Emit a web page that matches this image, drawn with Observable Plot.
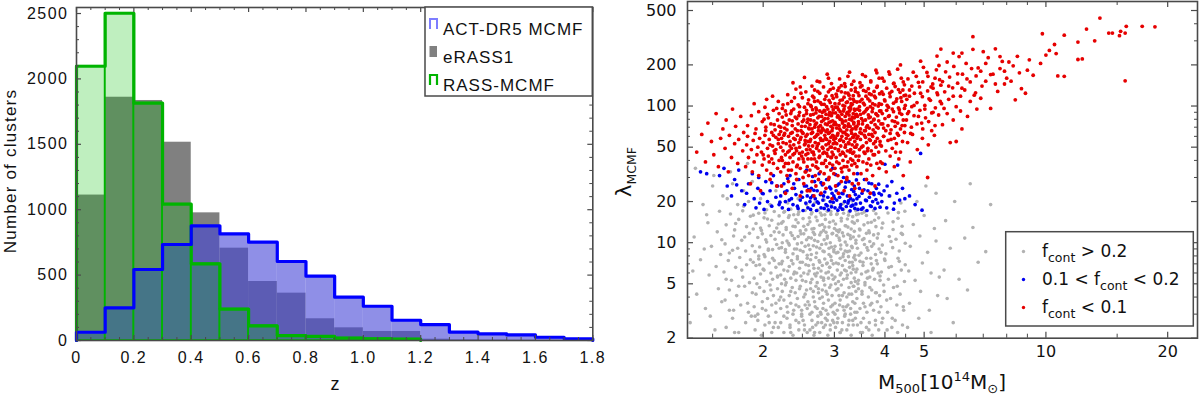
<!DOCTYPE html>
<html><head><meta charset="utf-8">
<script src="https://cdn.jsdelivr.net/npm/d3@7"></script>
<script src="https://cdn.jsdelivr.net/npm/@observablehq/plot@0.6"></script>
<style>
body{margin:0;background:#fff;}
#wrap{position:relative;width:1200px;height:396px;overflow:hidden;background:#fff;}
#left,#right,#over{position:absolute;top:0;}
#left{left:0;} #right{left:600px;} #over{left:0;pointer-events:none;}
svg{overflow:visible}
</style></head><body><div id="wrap"><div id="left"></div><div id="right"></div><svg id="over" width="1200" height="396"></svg></div>
<script>
// ---------- Left panel data: redshift histograms (bin width 0.1) ----------
const zBinStart = [0,0.1,0.2,0.3,0.4,0.5,0.6,0.7,0.8,0.9,1.0,1.1,1.2,1.3,1.4,1.5,1.6,1.7];
const binWidth = 0.1;
const actCounts   = [63,250,543,734,877,815,752,604,492,331,262,155,122,64,51,43,25,13];
const erassCounts = [1112,1860,1835,1516,976,706,451,362,166,97,69,69,10,5,3,2,1,0];
const rassCounts  = [2097,2502,1815,1042,586,240,112,38,31,18,13,10,0,0,0,0,0,0];
const zTicks = [0,0.2,0.4,0.6,0.8,1.0,1.2,1.4,1.6,1.8];
const zMinor = [0.05,0.1,0.15,0.25,0.3,0.35,0.45,0.5,0.55,0.65,0.7,0.75,0.85,0.9,0.95,1.05,1.1,1.15,1.25,1.3,1.35,1.45,1.5,1.55,1.65,1.7,1.75];
const nTicks = [0,500,1000,1500,2000,2500];
const nMinor = [100,200,300,400,600,700,800,900,1100,1200,1300,1400,1600,1700,1800,1900,2100,2200,2300,2400];
const histLegend = ["ACT-DR5 MCMF","eRASS1","RASS-MCMF"];

// ---------- Right panel data: M500 [1e14 Msun], lambda_MCMF ----------
const massTicks = [2,3,4,5,10,20];
const massMinor = [1.5,2.5,3.5,4.5,6,7,8,9,15];
const lambdaTicks = [2,5,10,20,50,100,200,500];
const lambdaMinor = [3,4,6,7,8,9,30,40,60,70,80,90,300,400];
const scatterLegend = ["> 0.2","0.1 < ","< 0.1"];

const grayPts = [
[1.32,2.6],[1.35,11],[1.37,4.2],[1.4,7.5],[1.42,19],[1.44,3.3],[1.46,14],[1.47,5.8],[1.49,9.4],[1.5,26],[1.52,2.3],[1.53,6.7],[1.54,12],[1.55,4.6],[1.56,17],[1.57,8.2],[1.58,3.7],[1.59,22],[1.36,35],[1.45,16],[1.51,31],[1.34,6.2],[1.43,9],[1.48,2.9],[1.58,10.5],
[1.62,2.4],[1.68,2.8],[1.74,2.2],[1.81,2.6],[1.87,2.9],
[1.61,3.8],[1.65,4.5],[1.69,3.2],[1.72,4.1],[1.76,3.5],[1.8,4.8],[1.84,3.1],[1.88,4.3],
[1.6,6.1],[1.64,7.4],[1.67,5.3],[1.71,6.6],[1.75,7.8],[1.78,5.6],[1.82,6.9],[1.85,5.1],[1.89,7.2],
[1.61,9.8],[1.65,8.4],[1.69,11.2],[1.73,9.1],[1.77,10.4],[1.81,8.7],[1.85,11.7],[1.88,9.5],
[1.62,13.5],[1.66,16.2],[1.7,12.4],[1.74,14.8],[1.78,17.1],[1.82,13.1],[1.86,15.6],[1.89,12.6],
[1.63,21],[1.68,27],[1.73,19],[1.79,24],[1.84,20],[1.88,28],[1.66,33],[1.83,38],
[1.91,2.3],[1.94,2.7],[1.98,2.1],[2.02,2.5],[2.06,2.9],[2.1,2.2],[2.14,2.6],[2.18,2.4],
[1.9,3.4],[1.92,4.2],[1.94,3.0],[1.96,4.7],[1.99,3.7],[2.01,4.4],[2.03,3.2],[2.05,3.9],[2.08,4.9],[2.1,3.5],[2.12,4.1],[2.15,3.1],[2.17,4.6],[2.19,3.8],
[1.9,5.5],[1.92,6.8],[1.95,7.6],[1.97,5.9],[2.0,6.4],[2.02,7.9],[2.04,5.2],[2.07,7.1],[2.09,6.0],[2.11,5.4],[2.13,7.4],[2.15,6.6],[2.17,5.7],[2.19,7.0],
[1.91,8.6],[1.94,10.9],[1.96,9.3],[1.99,11.6],[2.01,8.2],[2.04,10.1],[2.06,9.0],[2.09,11.3],[2.11,8.9],[2.14,10.6],[2.16,9.7],[2.19,11.9],
[1.92,13.8],[1.95,16.4],[1.98,12.3],[2.01,15.2],[2.04,17.4],[2.07,13.3],[2.1,14.6],[2.13,16.9],[2.16,12.8],[2.19,15.7],
[1.97,21],[2.08,19],[2.15,24],
[2.21,2.6],[2.25,2.2],[2.29,2.8],[2.33,2.4],[2.37,2.1],[2.41,2.7],[2.45,2.3],[2.49,2.9],[2.53,2.5],[2.57,2.2],
[2.21,3.3],[2.23,4.4],[2.25,3.8],[2.27,4.9],[2.3,3.1],[2.32,4.1],[2.34,3.6],[2.36,4.7],[2.38,3.2],[2.4,4.3],[2.43,3.9],[2.45,3.4],[2.47,4.8],[2.49,3.0],[2.52,4.0],[2.54,3.5],[2.56,4.5],[2.58,3.7],
[2.21,5.8],[2.23,7.3],[2.25,6.3],[2.28,5.1],[2.3,7.8],[2.32,6.7],[2.34,5.5],[2.37,7.0],[2.39,6.1],[2.41,5.3],[2.43,7.6],[2.46,6.5],[2.48,5.7],[2.5,7.2],[2.52,6.0],[2.55,5.2],[2.57,7.7],[2.59,6.8],
[2.22,9.2],[2.24,11.4],[2.27,8.5],[2.29,10.3],[2.32,9.6],[2.34,11.8],[2.37,8.3],[2.39,10.7],[2.42,9.0],[2.44,11.1],[2.47,8.8],[2.49,10.0],[2.52,11.6],[2.54,9.4],[2.57,8.1],[2.59,10.9],
[2.22,13.9],[2.25,16.7],[2.28,12.5],[2.31,15.3],[2.34,17.6],[2.37,13.2],[2.41,14.7],[2.44,16.1],[2.47,12.2],[2.51,15.0],[2.54,17.2],[2.58,13.6],
[2.3,19.5],[2.44,21],[2.56,19],
[2.61,2.3],[2.64,2.7],[2.67,2.1],[2.7,2.5],[2.73,2.9],[2.76,2.2],[2.79,2.6],[2.82,2.4],[2.85,2.8],[2.89,2.1],[2.93,2.5],[2.97,2.7],
[2.6,3.5],[2.62,4.6],[2.64,3.1],[2.66,4.0],[2.68,3.7],[2.7,4.8],[2.72,3.3],[2.74,4.3],[2.76,3.9],[2.78,3.0],[2.8,4.5],[2.82,3.6],[2.84,4.9],[2.86,3.2],[2.88,4.2],[2.9,3.8],[2.92,4.7],[2.94,3.4],[2.96,4.1],[2.98,3.1],
[2.6,6.2],[2.62,7.5],[2.64,5.4],[2.66,6.9],[2.68,5.9],[2.7,7.8],[2.72,5.1],[2.74,6.5],[2.76,7.2],[2.78,5.6],[2.8,6.8],[2.82,5.3],[2.84,7.6],[2.86,6.0],[2.88,7.1],[2.9,5.5],[2.92,6.6],[2.94,7.9],[2.96,5.8],[2.98,7.0],
[2.61,8.9],[2.63,10.8],[2.66,9.5],[2.68,11.5],[2.71,8.4],[2.73,10.2],[2.76,9.1],[2.78,11.9],[2.81,8.7],[2.83,10.5],[2.86,9.8],[2.88,11.2],[2.91,8.2],[2.93,10.0],[2.95,9.3],[2.97,11.7],[2.99,8.6],
[2.61,14.2],[2.64,16.6],[2.67,12.7],[2.7,15.4],[2.73,17.3],[2.76,13.4],[2.79,15.9],[2.82,12.3],[2.85,14.8],[2.88,17.0],[2.91,13.0],[2.94,16.1],[2.98,14.4],
[2.68,19.5],[2.83,20.5],[2.95,18.8],
[3.02,2.4],[3.06,2.8],[3.1,2.2],[3.14,2.6],[3.18,2.9],[3.22,2.3],[3.26,2.7],[3.3,2.1],[3.34,2.5],[3.38,2.8],
[3.01,3.6],[3.03,4.5],[3.05,3.2],[3.08,4.1],[3.1,3.8],[3.12,4.9],[3.15,3.4],[3.17,4.3],[3.19,3.0],[3.22,4.0],[3.24,3.5],[3.26,4.7],[3.29,3.3],[3.31,4.2],[3.33,3.7],[3.35,4.8],[3.37,3.1],[3.39,4.4],
[3.01,5.6],[3.03,7.1],[3.05,6.3],[3.07,5.2],[3.1,7.7],[3.12,6.0],[3.14,6.8],[3.16,5.4],[3.19,7.4],[3.21,6.2],[3.23,5.8],[3.25,7.9],[3.27,6.6],[3.3,5.1],[3.32,7.2],[3.34,6.4],[3.36,5.5],[3.38,7.5],[3.39,6.1],
[3.01,9.4],[3.04,11.3],[3.06,8.5],[3.09,10.4],[3.11,9.0],[3.14,11.8],[3.16,8.3],[3.19,10.1],[3.22,9.6],[3.24,11.5],[3.27,8.7],[3.29,10.7],[3.32,9.2],[3.34,11.0],[3.37,8.1],[3.39,9.9],
[3.02,13.7],[3.05,16.3],[3.09,12.4],[3.12,15.1],[3.16,17.5],[3.19,13.3],[3.23,14.9],[3.26,16.8],[3.3,12.6],[3.33,15.5],[3.36,13.9],[3.39,17.1],
[3.15,19.3],[3.32,20.2],
[3.42,2.5],[3.48,2.2],[3.54,2.8],[3.6,2.4],[3.66,2.6],[3.72,2.1],[3.79,2.7],[3.86,2.3],
[3.41,3.9],[3.44,4.6],[3.47,3.3],[3.51,4.2],[3.54,3.6],[3.57,4.9],[3.61,3.1],[3.64,4.0],[3.68,3.5],[3.71,4.5],[3.75,3.2],[3.79,4.3],[3.83,3.7],[3.88,4.1],
[3.41,6.4],[3.44,5.3],[3.47,7.3],[3.5,5.9],[3.53,6.8],[3.57,5.1],[3.6,7.7],[3.63,6.2],[3.67,5.6],[3.7,7.0],[3.74,6.5],[3.77,5.4],[3.81,7.4],[3.85,6.0],[3.89,5.7],
[3.42,9.1],[3.45,11.2],[3.49,8.4],[3.52,10.5],[3.56,9.7],[3.6,11.7],[3.63,8.8],[3.67,10.2],[3.71,9.4],[3.75,11.4],[3.79,8.2],[3.83,10.8],[3.87,9.0],
[3.42,14.5],[3.46,12.6],[3.51,16.4],[3.55,13.5],[3.6,15.8],[3.65,12.2],[3.7,14.1],[3.75,17.2],[3.8,13.1],[3.86,15.2],
[3.93,2.6],[4.05,2.3],[4.17,2.8],[4.3,2.2],[4.42,2.5],
[3.91,3.4],[3.98,4.4],[4.06,3.1],[4.13,3.9],[4.2,4.7],[4.28,3.5],[4.36,4.2],[4.45,3.2],
[3.92,6.1],[4.0,7.4],[4.08,5.4],[4.15,6.7],[4.23,5.8],[4.31,7.7],[4.39,6.3],[4.47,5.2],
[3.94,9.6],[4.02,8.3],[4.1,11.1],[4.18,9.2],[4.26,10.6],[4.34,8.7],[4.42,11.5],[4.49,9.9],
[3.95,13.9],[4.07,16.5],[4.19,12.5],[4.31,15.1],[4.41,13.2],[4.48,17.0],[4.12,22],[4.38,19.5],
[4.55,2.4],[4.85,2.8],[5.2,2.2],[4.6,3.6],[4.9,4.4],[5.15,3.2],[5.4,4.1],[4.58,6.2],[4.75,5.3],[4.95,7.1],[5.2,6.0],[5.45,5.6],[4.62,9.4],[4.88,11.2],[5.1,8.5],[5.35,10.3],[4.7,13.6],[5.0,15.8],[5.3,12.7],[4.8,20],[5.05,26],[5.35,23],
[5.9,2.6],[5.7,3.9],[6.4,4.5],[5.6,6.3],[6.1,5.4],[6.8,7.2],[5.8,9.1],[6.3,10.8],[7.1,8.6],[5.65,14.5],[6.6,12.9],[5.95,20],[6.5,27],[7.3,19]
];
const grayCorePts = [
[1.91,2.9],[1.93,5.0],[1.95,8.0],[1.97,12.8],[1.99,3.3],[2.01,6.3],[2.03,10.5],[2.05,14.9],[2.07,2.6],[2.09,4.5],[2.11,7.7],[2.13,12.0],[2.15,3.6],[2.17,5.6],[2.19,9.1],[2.02,16.5],[2.12,2.4],[2.18,13.7],[1.96,6.9],[2.06,8.8],
[2.21,4.0],[2.22,7.0],[2.23,10.0],[2.24,14.3],[2.25,2.9],[2.26,5.4],[2.27,8.9],[2.28,12.9],[2.29,3.4],[2.3,6.2],[2.31,9.9],[2.32,15.8],[2.33,2.5],[2.34,4.4],[2.35,7.4],[2.36,11.3],[2.37,3.0],[2.38,5.9],[2.39,9.0],[2.4,13.1],[2.26,16.9],[2.34,2.2],[2.22,5.0],[2.38,16.0],
[2.41,3.5],[2.42,6.0],[2.43,9.8],[2.44,14.0],[2.45,2.6],[2.46,4.6],[2.47,7.2],[2.48,11.6],[2.49,3.2],[2.5,5.3],[2.51,8.6],[2.52,13.2],[2.53,2.3],[2.54,4.2],[2.55,6.9],[2.56,10.5],[2.57,3.3],[2.58,5.9],[2.59,9.6],[2.6,15.2],[2.45,16.8],[2.51,2.7],[2.55,12.4],[2.43,7.9],
[2.61,3.0],[2.62,5.1],[2.63,8.2],[2.64,12.6],[2.65,2.4],[2.66,4.4],[2.67,6.5],[2.68,10.4],[2.69,3.4],[2.7,5.7],[2.71,9.3],[2.72,14.5],[2.73,2.6],[2.74,4.6],[2.75,7.4],[2.76,11.4],[2.77,3.1],[2.78,6.2],[2.79,9.7],[2.8,13.6],[2.63,16.2],[2.68,2.2],[2.72,6.0],[2.77,16.5],[2.66,11.9],[2.8,4.0],
[2.81,3.3],[2.82,5.5],[2.83,8.6],[2.84,13.0],[2.85,2.5],[2.86,4.4],[2.87,7.0],[2.88,10.8],[2.89,3.0],[2.9,6.1],[2.91,9.1],[2.92,14.1],[2.93,2.3],[2.94,4.9],[2.95,7.4],[2.96,11.6],[2.97,3.5],[2.98,5.4],[2.99,8.9],[3.0,12.7],[2.84,16.0],[2.88,2.7],[2.94,16.9],[2.99,2.6],[2.86,11.9],[2.92,6.6],
[3.01,3.0],[3.02,5.0],[3.03,8.4],[3.04,12.3],[3.05,2.6],[3.06,4.6],[3.07,7.0],[3.08,10.8],[3.09,3.5],[3.1,5.8],[3.11,9.6],[3.12,14.4],[3.13,2.3],[3.14,4.1],[3.15,7.9],[3.16,11.2],[3.17,3.2],[3.18,6.3],[3.19,8.7],[3.2,13.3],[3.04,16.1],[3.1,2.2],[3.16,16.4],[3.07,12.0],
[3.21,3.4],[3.22,5.5],[3.23,8.6],[3.24,13.0],[3.25,2.5],[3.26,4.2],[3.27,7.2],[3.28,11.3],[3.29,3.0],[3.3,6.0],[3.31,9.4],[3.32,14.2],[3.33,2.7],[3.34,4.8],[3.35,7.8],[3.36,12.1],[3.37,3.6],[3.38,5.2],[3.39,10.4],[3.4,16.0],[3.25,15.9],[3.33,6.8],
[3.41,3.1],[3.43,5.0],[3.45,8.1],[3.47,12.4],[3.49,2.6],[3.51,4.4],[3.53,7.2],[3.55,10.7],[3.57,3.4],[3.59,6.1],[3.61,9.2],[3.63,14.0],[3.65,2.3],[3.67,4.7],[3.69,7.7],[3.44,16.2],[3.56,16.8],[3.66,11.8],[3.52,2.2],[3.62,5.5],
[3.71,3.6],[3.73,6.3],[3.75,9.8],[3.77,14.6],[3.79,2.5],[3.81,4.3],[3.83,7.0],[3.85,11.6],[3.87,3.1],[3.89,5.3],[3.91,8.5],[3.93,12.8],[3.95,2.8],[3.97,4.9],[3.99,7.6],[3.8,16.3],
[4.04,3.8],[4.09,6.6],[4.14,10.2],[4.19,14.2],[4.24,2.7],[4.29,4.8],[4.34,7.3],[4.39,11.7],[4.44,3.4],[4.49,6.9],[4.16,2.4],[4.32,16.6],
[1.62,5.4],[1.65,3.2],[1.68,8.8],[1.71,13.8],[1.74,4.8],[1.77,6.3],[1.8,11.0],[1.83,3.6],[1.86,7.5],[1.89,15.9],[1.7,2.2],[1.79,18.5]
];

const bluePts = [
[1.4,33],[1.45,32],[1.56,31],[1.6,35],[1.63,26],[1.67,22],[1.7,29],[1.74,34],[1.77,24],[1.8,19],[1.84,27],[1.88,32],
[1.9,21],[1.92,18],[1.94,25],[1.96,19.5],[1.99,23],[2.01,17.5],[2.03,28],[2.05,20],[2.08,24],[2.1,18.5],[2.12,31],[2.15,21.5],[2.17,26],[2.19,19],
[2.21,22],[2.23,18],[2.25,27],[2.27,20],[2.29,24],[2.31,17.5],[2.33,31],[2.35,21],[2.37,19],[2.39,25],[2.41,22.5],[2.43,18.5],[2.45,29],[2.47,20.5],[2.49,23.5],[2.51,17.2],[2.53,26],[2.55,19.5],[2.56,34],[2.57,22],[2.58,18],[2.59,24.5],
[2.61,20],[2.62,17.5],[2.63,25],[2.65,22],[2.66,18.8],[2.68,28],[2.69,21],[2.71,17.2],[2.72,24],[2.74,19.5],[2.75,32],[2.77,22.5],[2.78,18],[2.8,26.5],[2.81,20.5],[2.83,17.8],[2.84,23.5],[2.86,19],[2.87,29],[2.89,21.5],[2.9,17.4],[2.92,25.5],[2.93,20],[2.95,18.3],[2.96,23],[2.97,35],[2.98,19.8],[2.99,22],
[3.01,18],[3.03,24],[3.04,20.5],[3.06,17.3],[3.08,27],[3.09,21.5],[3.11,19],[3.13,23],[3.14,17.6],[3.16,30],[3.18,20],[3.19,25.5],[3.21,18.4],[3.23,22],[3.24,19.5],[3.26,28],[3.28,17.1],[3.29,21],[3.31,24.5],[3.33,18.8],[3.34,20.5],[3.36,26],[3.37,17.8],[3.38,22.5],[3.39,19.2],
[3.41,21],[3.43,17.5],[3.46,25],[3.48,19.5],[3.51,23],[3.53,18],[3.56,29],[3.58,20.5],[3.61,17.2],[3.63,24],[3.66,21.5],[3.68,18.6],[3.71,27],[3.73,20],[3.76,22.5],[3.78,17.8],[3.81,25],[3.84,19.5],[3.87,23],[3.89,18.2],
[3.93,20],[3.98,24],[4.04,18],[4.1,22],[4.16,28],[4.22,19.5],[4.28,23],[4.35,20.5],[4.42,25],[4.48,21],
[4.6,22],[4.75,19],[4.94,17.3],[4.9,45],[4.3,37],[4.0,37.5],
[2.2,19.8],[2.26,23.5],[2.32,20.5],[2.38,27],[2.44,17.8],[2.5,21.5],[2.56,26],[2.62,21.3],[2.67,24.2],[2.72,19.9],[2.78,27.5],[2.82,22],[2.88,18.6],[2.94,24.8],[3.0,21.2],[3.05,26.3],[3.1,18.2],[3.15,22.8],[3.2,27.7],[3.25,20.2],[3.3,18.5],[3.35,23.7],[3.4,28.8],[3.45,21.8],[3.5,17.6],[3.55,24.4],[3.6,20.3],[3.65,27.3],[3.7,18.4],[3.75,23.2],[3.8,20.7],[3.86,26.8],[3.92,22.4],[2.1,27.5],[2.0,22.8],[1.95,30],[2.65,30.5],[3.02,31.5],[3.42,32],[2.3,29.5],[1.72,26.5],[1.82,23],[4.05,26],[4.2,17.6]
];

const redPts = [
[1.37,46],[1.41,62],[1.44,39],[1.46,75],[1.49,55],[1.51,44],[1.53,88],[1.55,36],[1.57,58],[1.59,68],[1.61,49],[1.62,79],[1.64,33],[1.65,61],[1.67,42],[1.68,95],[1.7,53],[1.71,71],[1.73,38],[1.74,57],[1.76,84],[1.78,47],[1.79,64],
[1.86,27],[1.97,24],[2.08,29],[2.16,26],
[1.81,36],[1.84,42],[1.88,33],[1.9,39],[1.93,44],[1.95,31],[1.99,37],[2.01,41],[2.04,34],[2.06,43],[2.09,32],[2.12,38],[2.14,45],[2.17,35],[2.19,40],
[1.82,52],[1.83,60],[1.87,48],[1.89,56],[1.91,63],[1.94,50],[1.96,58],[1.98,46],[2.0,54],[2.02,61],[2.05,49],[2.07,57],[2.1,64],[2.11,51],[2.13,47],[2.15,59],[2.18,53],[2.19,62],
[1.83,72],[1.87,85],[1.92,68],[1.95,91],[1.99,77],[2.03,70],[2.06,82],[2.09,74],[2.12,93],[2.14,67],[2.17,79],[2.19,88],
[1.9,104],[2.02,98],[2.11,118],[2.18,108],
[2.22,26],[2.27,23],[2.31,28],[2.36,25],[2.42,29],[2.47,22],[2.52,27],[2.57,24],
[2.21,33],[2.23,40],[2.25,36],[2.27,44],[2.29,31],[2.31,38],[2.33,42],[2.35,34],[2.37,39],[2.39,45],[2.41,32],[2.43,37],[2.45,41],[2.47,35],[2.49,43],[2.51,30],[2.52,39],[2.54,33],[2.55,44],[2.57,36],[2.58,41],[2.59,31],
[2.21,50],[2.22,58],[2.24,47],[2.26,63],[2.28,53],[2.3,46],[2.31,60],[2.33,55],[2.35,49],[2.36,64],[2.38,52],[2.4,57],[2.42,47],[2.43,61],[2.45,54],[2.46,50],[2.48,59],[2.5,46],[2.51,63],[2.53,52],[2.54,56],[2.56,48],[2.57,62],[2.58,55],[2.59,51],
[2.21,70],[2.23,83],[2.25,76],[2.27,92],[2.29,67],[2.32,79],[2.34,88],[2.36,72],[2.38,95],[2.4,68],[2.42,81],[2.44,74],[2.46,90],[2.48,66],[2.5,77],[2.52,85],[2.54,71],[2.56,93],[2.58,80],[2.59,69],
[2.24,102],[2.3,121],[2.35,108],[2.41,133],[2.46,99],[2.5,115],[2.55,127],[2.58,104],[2.37,148],[2.53,162],
[2.61,24],[2.64,28],[2.67,22],[2.7,26],[2.74,29],[2.78,23],[2.82,27],[2.86,25],[2.9,29],[2.96,21],
[2.61,34],[2.63,41],[2.65,37],[2.67,44],[2.69,31],[2.71,39],[2.73,35],[2.75,42],[2.77,33],[2.79,38],[2.81,45],[2.83,32],[2.85,40],[2.87,36],[2.89,43],[2.91,30],[2.92,38],[2.94,34],[2.95,42],[2.97,37],[2.98,44],[2.99,32],
[2.61,48],[2.62,57],[2.63,63],[2.65,51],[2.66,46],[2.68,59],[2.69,54],[2.71,49],[2.72,62],[2.74,53],[2.75,47],[2.77,58],[2.78,64],[2.8,50],[2.81,56],[2.83,46],[2.84,61],[2.86,52],[2.87,57],[2.89,48],[2.9,63],[2.92,55],[2.93,50],[2.94,59],[2.96,46],[2.97,61],[2.98,53],[2.99,57],
[2.61,73],[2.62,86],[2.64,68],[2.65,94],[2.67,78],[2.68,70],[2.7,89],[2.71,75],[2.73,82],[2.74,66],[2.76,92],[2.77,72],[2.79,84],[2.8,69],[2.82,79],[2.83,93],[2.85,74],[2.86,87],[2.88,67],[2.89,81],[2.91,76],[2.92,90],[2.94,71],[2.95,85],[2.96,66],[2.97,78],[2.98,94],[2.99,73],
[2.62,101],[2.65,118],[2.68,131],[2.7,97],[2.73,109],[2.76,124],[2.79,103],[2.82,138],[2.84,112],[2.87,99],[2.9,127],[2.93,106],[2.96,119],[2.98,135],[2.72,152],[2.88,171],[2.95,146],
[3.02,26],[3.07,23],[3.12,28],[3.17,24],[3.22,29],[3.27,22],[3.32,27],[3.37,25],
[3.01,35],[3.03,42],[3.06,31],[3.08,38],[3.1,44],[3.13,33],[3.15,40],[3.17,36],[3.2,43],[3.22,30],[3.24,39],[3.26,34],[3.29,41],[3.31,37],[3.33,45],[3.35,32],[3.37,38],[3.39,43],
[3.01,49],[3.02,58],[3.04,53],[3.06,63],[3.07,47],[3.09,56],[3.11,51],[3.13,60],[3.14,46],[3.16,55],[3.18,64],[3.19,50],[3.21,58],[3.23,47],[3.24,61],[3.26,53],[3.28,57],[3.29,48],[3.31,63],[3.32,52],[3.34,59],[3.35,46],[3.37,55],[3.38,62],[3.39,50],
[3.01,76],[3.02,89],[3.04,69],[3.05,83],[3.07,94],[3.08,72],[3.1,80],[3.11,66],[3.13,87],[3.14,75],[3.16,92],[3.17,70],[3.19,84],[3.2,78],[3.22,67],[3.23,90],[3.25,74],[3.26,86],[3.28,71],[3.29,95],[3.31,79],[3.32,68],[3.34,88],[3.35,76],[3.36,82],[3.37,93],[3.38,70],[3.39,85],
[3.01,104],[3.03,122],[3.05,98],[3.08,136],[3.1,110],[3.12,127],[3.15,101],[3.17,116],[3.19,139],[3.21,106],[3.24,124],[3.26,97],[3.28,113],[3.3,131],[3.32,103],[3.34,119],[3.36,108],[3.38,128],
[3.09,158],[3.18,146],[3.27,177],[3.35,152],
[3.44,27],[3.52,24],[3.6,29],[3.68,23],[3.78,26],
[3.41,36],[3.45,43],[3.49,32],[3.53,39],[3.57,45],[3.61,34],[3.65,41],[3.69,37],[3.73,31],[3.77,44],[3.82,38],[3.87,35],
[3.41,52],[3.43,60],[3.46,48],[3.48,57],[3.5,63],[3.53,51],[3.55,46],[3.58,59],[3.6,54],[3.63,49],[3.65,62],[3.68,56],[3.7,47],[3.73,60],[3.75,53],[3.78,64],[3.8,50],[3.83,58],[3.86,46],[3.89,55],
[3.41,71],[3.42,84],[3.44,77],[3.46,93],[3.48,68],[3.5,81],[3.52,74],[3.54,89],[3.56,66],[3.58,79],[3.6,94],[3.62,72],[3.64,86],[3.66,69],[3.68,83],[3.7,76],[3.72,91],[3.74,67],[3.76,80],[3.78,73],[3.8,88],[3.82,70],[3.84,85],[3.86,78],[3.88,92],
[3.41,107],[3.43,125],[3.46,99],[3.48,138],[3.51,112],[3.54,130],[3.56,102],[3.59,118],[3.62,96],[3.64,134],[3.67,109],[3.7,121],[3.73,104],[3.76,128],[3.79,115],[3.82,137],[3.85,100],[3.88,123],
[3.47,148],[3.58,165],[3.69,153],[3.8,183],[3.87,160],
[3.94,38],[4.03,33],[4.12,43],[4.22,36],[4.33,41],[4.44,31],
[3.92,51],[3.97,60],[4.02,47],[4.07,56],[4.12,63],[4.17,49],[4.22,58],[4.27,53],[4.32,61],[4.37,46],[4.42,55],[4.47,64],
[3.91,74],[3.94,88],[3.97,69],[4.0,81],[4.04,93],[4.07,72],[4.1,85],[4.14,67],[4.17,78],[4.2,91],[4.24,71],[4.27,83],[4.3,75],[4.34,94],[4.37,68],[4.4,87],[4.44,79],[4.48,72],
[3.92,103],[3.96,122],[4.0,109],[4.04,135],[4.08,98],[4.12,117],[4.16,128],[4.2,105],[4.24,139],[4.28,113],[4.32,97],[4.36,126],[4.4,108],[4.43,131],[4.46,119],[4.49,101],
[3.98,152],[4.11,171],[4.21,147],[4.3,186],[4.39,160],[4.47,143],
[4.62,39],[5.1,30],[4.55,54],[4.68,62],[4.81,48],[4.95,58],[5.12,52],[5.3,61],
[4.52,79],[4.58,91],[4.65,70],[4.72,85],[4.8,74],[4.88,93],[4.96,68],[5.04,82],[5.13,77],[5.22,89],[5.32,72],[5.43,86],
[4.53,112],[4.6,131],[4.66,99],[4.73,124],[4.8,106],[4.87,138],[4.95,117],[5.02,101],[5.1,129],[5.18,110],[5.26,135],[5.33,97],[5.4,121],[5.48,108],
[4.56,158],[4.7,177],[4.84,149],[4.98,192],[5.11,165],[5.25,145],[5.36,184],[5.46,156],[4.9,213],[5.38,232],
[5.8,54],[6.0,55],[6.2,68],[5.55,73],[5.7,88],[5.9,79],[6.15,92],[6.4,84],[6.75,95],
[5.52,104],[5.62,127],[5.75,112],[5.88,136],[6.0,99],[6.15,118],[6.3,131],[6.5,108],[6.7,125],[6.9,114],
[5.55,151],[5.65,178],[5.78,163],[5.92,195],[6.05,147],[6.22,171],[6.38,158],[6.55,188],[6.72,166],[6.9,180],
[5.5,261],[5.9,244],[6.2,244],[6.6,322],
[7.3,96],[8.7,134],[8.9,124],[8.4,111],[7.6,128],[7.9,145],[8.2,152],
[7.1,152],[7.4,171],[7.7,188],[8.0,160],[8.3,197],[8.6,175],[9.0,183],[9.3,168],
[7.2,226],[7.8,212],[8.5,231],[9.1,218],[7.5,262],
[9.8,338],[11.1,330],[12.6,366],[12.0,294],[12.3,221],[12.0,219],[10.7,166],[11.1,165],[10.2,255],[10.5,282],[10.0,236],[10.6,242],[9.7,205],
[13.6,440],[15.8,383],[17.3,383],[18.6,380],[15.7,153],[14.3,342],[14.6,342],[15.2,327],[15.3,352],[15.7,342],[13.2,300]
];
const redCorePts = [
[2.0,44],[2.03,66],[2.05,87],[2.08,52],[2.1,41],[2.13,73],[2.16,96],[2.18,57],[2.04,112],[2.15,48],[2.07,39],[2.12,61],[2.01,80],[2.19,71],
[2.22,42],[2.24,54],[2.26,69],[2.28,86],[2.3,104],[2.32,47],[2.34,63],[2.36,78],[2.38,58],[2.39,115],[2.23,96],[2.27,38],[2.33,51],[2.37,44],[2.25,61],[2.29,74],[2.35,92],[2.31,34],[2.4,83],[2.21,65],
[2.41,49],[2.43,66],[2.45,85],[2.47,57],[2.49,71],[2.51,41],[2.53,98],[2.55,60],[2.57,76],[2.59,111],[2.42,36],[2.44,102],[2.46,45],[2.48,124],[2.5,64],[2.52,79],[2.54,53],[2.56,88],[2.58,45],[2.6,68],[2.47,138],[2.55,33],
[2.61,55],[2.62,79],[2.63,99],[2.64,46],[2.65,64],[2.66,87],[2.67,115],[2.68,41],[2.69,73],[2.7,60],[2.71,94],[2.72,51],[2.73,128],[2.74,70],[2.75,84],[2.76,43],[2.77,106],[2.78,56],[2.79,66],[2.8,90],[2.64,140],[2.7,36],[2.76,150],[2.68,108],[2.73,62],[2.79,77],
[2.81,49],[2.82,67],[2.83,103],[2.84,81],[2.85,58],[2.86,118],[2.87,45],[2.88,73],[2.89,95],[2.9,53],[2.91,86],[2.92,64],[2.93,132],[2.94,77],[2.95,50],[2.96,99],[2.97,69],[2.98,114],[2.99,60],[2.82,38],[2.9,160],[2.86,65],[2.94,42],[2.97,89],[2.84,92],[2.91,110],
[3.01,54],[3.02,98],[3.03,73],[3.04,117],[3.05,61],[3.06,85],[3.07,48],[3.08,104],[3.09,68],[3.1,91],[3.11,57],[3.12,141],[3.13,79],[3.14,111],[3.15,64],[3.16,45],[3.17,95],[3.18,72],[3.19,125],[3.2,52],[3.04,39],[3.12,35],[3.08,83],[3.15,77],[3.18,100],[3.06,130],
[3.21,62],[3.22,88],[3.23,107],[3.24,71],[3.25,54],[3.26,120],[3.27,80],[3.28,46],[3.29,99],[3.3,66],[3.31,144],[3.32,83],[3.33,59],[3.34,112],[3.35,74],[3.36,95],[3.37,50],[3.38,135],[3.39,68],[3.4,87],[3.24,165],[3.33,40],[3.22,36],[3.3,104],[3.36,61],[3.27,92],
[3.41,58],[3.42,95],[3.44,74],[3.45,119],[3.47,64],[3.48,87],[3.5,50],[3.51,141],[3.53,78],[3.54,105],[3.56,61],[3.57,91],[3.59,128],[3.6,70],[3.62,47],[3.63,113],[3.65,82],[3.66,57],[3.68,99],[3.69,150],[3.44,40],[3.52,170],[3.61,38],[3.58,66],[3.66,123],[3.47,108],
[3.71,62],[3.73,96],[3.75,79],[3.77,118],[3.79,55],[3.81,87],[3.83,140],[3.85,69],[3.87,104],[3.89,52],[3.91,92],[3.93,127],[3.95,74],[3.97,60],[3.99,111],[3.74,44],[3.82,175],[3.9,39],[3.78,102],[3.94,160],
[4.02,66],[4.05,101],[4.08,84],[4.11,124],[4.14,57],[4.17,95],[4.2,146],[4.23,77],[4.26,108],[4.29,63],[4.32,132],[4.35,89],[4.38,115],[4.41,72],[4.44,150],[4.47,96],[4.5,120],[4.09,178],[4.25,46],[4.37,200],
[4.55,88],[4.6,118],[4.66,140],[4.72,101],[4.78,165],[4.84,84],[4.9,124],[4.96,150],[5.02,95],[5.08,176],[5.14,113],[5.2,138],[5.26,90],[5.32,160],[5.38,125],[5.44,198],[4.63,63],[4.93,75],[5.22,66],[5.5,142],
[5.6,96],[5.75,140],[5.9,118],[6.05,172],[6.2,135],[6.35,205],[6.5,150],[6.65,120],[6.8,190],[6.95,140],[7.1,205],[7.3,170],[7.5,145],[7.7,230],[7.9,180],[8.1,210],[5.7,210],[6.1,230],[6.6,260],[7.0,250]
];

// ---------- helpers ----------
const bins = zBinStart.map((z, i) => ({z0: z, z1: Math.round((z + binWidth) * 10) / 10,
  act: actCounts[i], erass: erassCounts[i], rass: rassCounts[i]}));
function stepPath(key) {
  const used = bins.filter(b => b[key] > 0);
  const pts = [{z: used[0].z0, n: 0}];
  for (const b of used) { pts.push({z: b.z0, n: b[key]}); pts.push({z: b.z1, n: b[key]}); }
  pts.push({z: used[used.length - 1].z1, n: 0});
  return pts;
}
const AX = "#4a4a4a";

// ---------- left panel ----------
const LW = 600, LH = 396, Lml = 76, Lmr = 7.7, Lmt = 7, Lmb = 56;
const Lfw = LW - Lml - Lmr, Lfh = LH - Lmt - Lmb;
const left = Plot.plot({
  width: LW, height: LH, marginLeft: Lml, marginRight: Lmr, marginTop: Lmt, marginBottom: Lmb,
  style: {fontFamily: "Liberation Sans, Arial, sans-serif", fontSize: "16px", letterSpacing: "1.5px", color: "#111", background: "transparent"},
  x: {domain: [0, 1.8], ticks: zTicks, tickFormat: d => d === 0 ? "0" : d.toFixed(1), tickSize: 0, tickPadding: 11, label: null},
  y: {domain: [0, 2546], ticks: nTicks, tickFormat: d => String(d), tickSize: 0, tickPadding: 8, label: null},
  marks: [
    Plot.rect(bins, {x1: "z0", x2: "z1", y1: 0, y2: "erass", fill: "#808080"}),
    Plot.rect(bins, {x1: "z0", x2: "z1", y1: 0, y2: "act", fill: "rgb(68,68,215)", fillOpacity: 0.6}),
    Plot.rect(bins.filter(b => b.rass > 0), {x1: "z0", x2: "z1", y1: 0, y2: "rass", fill: "rgb(0,190,0)", fillOpacity: 0.25, stroke: "#00b400", strokeWidth: 1.6}),
    Plot.line(stepPath("rass"), {x: "z", y: "n", stroke: "#00b400", strokeWidth: 3.2}),
    Plot.line(stepPath("act"), {x: "z", y: "n", stroke: "#0000ff", strokeWidth: 3.2}),
    Plot.ruleX(zTicks, {stroke: AX, strokeWidth: 1.2, insetTop: Lfh - 5}),
    Plot.ruleX(zTicks, {stroke: AX, strokeWidth: 1.2, insetBottom: Lfh - 5}),
    Plot.ruleX(zMinor, {stroke: AX, strokeWidth: 1, insetTop: Lfh - 3}),
    Plot.ruleX(zMinor, {stroke: AX, strokeWidth: 1, insetBottom: Lfh - 3}),
    Plot.ruleY(nTicks, {stroke: AX, strokeWidth: 1.2, insetRight: Lfw - 5}),
    Plot.ruleY(nTicks, {stroke: AX, strokeWidth: 1.2, insetLeft: Lfw - 5}),
    Plot.ruleY(nMinor, {stroke: AX, strokeWidth: 1, insetRight: Lfw - 3}),
    Plot.ruleY(nMinor, {stroke: AX, strokeWidth: 1, insetLeft: Lfw - 3}),
    Plot.frame({stroke: AX, strokeWidth: 1.6})
  ]
});
document.getElementById("left").append(left);

// ---------- right panel ----------
const RW = 600, RH = 396, Rml = 87, Rmr = 3, Rmt = 1, Rmb = 58.3;
const Rfw = RW - Rml - Rmr, Rfh = RH - Rmt - Rmb;
const xy = {x: d => d[0], y: d => d[1]};
const right = Plot.plot({
  width: RW, height: RH, marginLeft: Rml, marginRight: Rmr, marginTop: Rmt, marginBottom: Rmb,
  style: {fontFamily: "DejaVu Sans, sans-serif", fontSize: "16px", color: "#111", background: "transparent"},
  x: {type: "log", domain: [1.3, 23.7], axis: null},
  y: {type: "log", domain: [2, 582], axis: null},
  marks: [
    Plot.dot(grayPts.concat(grayCorePts), {...xy, r: 1.8, fill: "#b2b2b2"}),
    Plot.dot(bluePts, {...xy, r: 1.85, fill: "#0000f0"}),
    Plot.dot(redPts.concat(redCorePts), {...xy, r: 1.9, fill: "#e60000"}),
    Plot.ruleX(massTicks, {stroke: AX, strokeWidth: 1.2, insetTop: Rfh - 6}),
    Plot.ruleX(massTicks, {stroke: AX, strokeWidth: 1.2, insetBottom: Rfh - 6}),
    Plot.ruleX(massMinor, {stroke: AX, strokeWidth: 1, insetTop: Rfh - 4}),
    Plot.ruleX(massMinor, {stroke: AX, strokeWidth: 1, insetBottom: Rfh - 4}),
    Plot.ruleY(lambdaTicks, {stroke: AX, strokeWidth: 1.2, insetRight: Rfw - 6}),
    Plot.ruleY(lambdaTicks, {stroke: AX, strokeWidth: 1.2, insetLeft: Rfw - 6}),
    Plot.ruleY(lambdaMinor, {stroke: AX, strokeWidth: 1, insetRight: Rfw - 3}),
    Plot.ruleY(lambdaMinor, {stroke: AX, strokeWidth: 1, insetLeft: Rfw - 3}),
    Plot.text(massTicks, {x: d => d, text: d => String(d), frameAnchor: "bottom", dy: 19, fill: "#111", fontSize: 16}),
    Plot.text(lambdaTicks, {y: d => d, text: d => String(d), frameAnchor: "left", dx: -11, textAnchor: "end", fill: "#111", fontSize: 16}),
    Plot.frame({stroke: AX, strokeWidth: 1.6})
  ]
});
document.getElementById("right").append(right);

// ---------- titles and legends (overlay) ----------
const svg = d3.select("#over");
svg.append("text").attr("transform", "translate(10,171) rotate(-90)").attr("text-anchor", "middle")
  .attr("dominant-baseline", "central").style("font", "17px 'Liberation Sans', Arial, sans-serif")
  .style("letter-spacing", "1.2px").attr("fill", "#111").text("Number of clusters");
svg.append("text").attr("x", 335).attr("y", 390).attr("text-anchor", "middle")
  .style("font", "18px 'Liberation Sans', Arial, sans-serif").attr("fill", "#111").text("z");
const lg = svg.append("g");
lg.append("rect").attr("x", 425).attr("y", 7).attr("width", 167.3).attr("height", 89)
  .attr("fill", "#fff").attr("stroke", AX).attr("stroke-width", 1.5);
lg.append("path").attr("d", "M430,29V19H437V29").attr("fill", "none").attr("stroke", "#7d7dff").attr("stroke-width", 2);
lg.append("rect").attr("x", 429.5).attr("y", 46).attr("width", 7.5).attr("height", 11).attr("fill", "#808080");
lg.append("path").attr("d", "M430,85V75H437V85").attr("fill", "none").attr("stroke", "#00b400").attr("stroke-width", 2.2);
histLegend.forEach((t, i) => {
  lg.append("text").attr("x", 443).attr("y", 35 + i * 28).style("font", "17px 'Liberation Sans', Arial, sans-serif")
    .style("letter-spacing", "1px").attr("fill", "#111").text(t);
});
const lam = svg.append("text").attr("transform", "translate(631,172) rotate(-90)").attr("text-anchor", "middle")
  .style("font", "21px 'DejaVu Sans', sans-serif").attr("fill", "#111");
lam.append("tspan").text("λ");
lam.append("tspan").attr("dy", 5).style("font-size", "12.5px").text("MCMF");
const mt = svg.append("text").attr("x", 942).attr("y", 389).attr("text-anchor", "middle")
  .style("font", "20px 'DejaVu Sans', sans-serif").attr("fill", "#111");
mt.append("tspan").text("M");
mt.append("tspan").attr("dy", 4).style("font-size", "13px").text("500");
mt.append("tspan").attr("dy", -4).text("[10");
mt.append("tspan").attr("dy", -8).style("font-size", "13px").text("14");
mt.append("tspan").attr("dy", 8).text("M");
mt.append("tspan").attr("dy", 4).style("font-size", "13px").text("⊙");
mt.append("tspan").attr("dy", -4).text("]");
const rg = svg.append("g");
rg.append("rect").attr("x", 1005.7).attr("y", 231.7).attr("width", 187.6).attr("height", 94.3)
  .attr("fill", "#fff").attr("stroke", AX).attr("stroke-width", 1.5);
const legCols = ["#b2b2b2", "#0000f0", "#e60000"];
legCols.forEach((c, i) => rg.append("circle").attr("cx", 1023.5).attr("cy", 251.5 + i * 28).attr("r", 1.7).attr("fill", c));
const F = "17px 'DejaVu Sans', sans-serif";
function legText(x, y) { return rg.append("text").attr("x", x).attr("y", y).style("font", F).attr("fill", "#111"); }
let t0 = legText(1042, 257);
t0.append("tspan").text("f"); t0.append("tspan").attr("dy", 5).style("font-size", "12.5px").text("cont");
t0.append("tspan").attr("dy", -5).text(" " + scatterLegend[0]);
let t1 = legText(1042, 285);
t1.append("tspan").text(scatterLegend[1] + "f"); t1.append("tspan").attr("dy", 5).style("font-size", "12.5px").text("cont");
t1.append("tspan").attr("dy", -5).text(" < 0.2");
let t2 = legText(1042, 313);
t2.append("tspan").text("f"); t2.append("tspan").attr("dy", 5).style("font-size", "12.5px").text("cont");
t2.append("tspan").attr("dy", -5).text(" " + scatterLegend[2]);
</script></body></html>
